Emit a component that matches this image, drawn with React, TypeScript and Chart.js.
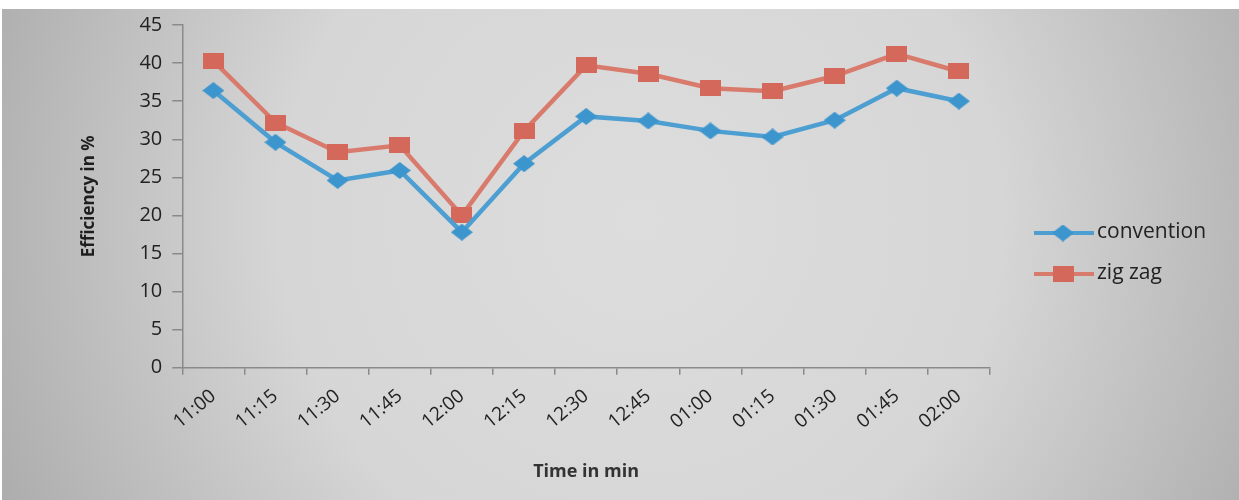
import React, { useEffect, useRef } from 'react';
import { Chart, registerables } from 'chart.js';

Chart.register(...registerables);

const timeLabels = ['11:00', '11:15', '11:30', '11:45', '12:00', '12:15', '12:30', '12:45', '01:00', '01:15', '01:30', '01:45', '02:00'];
const conventionValues = [36.4, 29.6, 24.6, 25.9, 17.8, 26.8, 33.0, 32.4, 31.1, 30.3, 32.5, 36.7, 35.0];
const zigzagValues = [40.3, 32.2, 28.3, 29.2, 20.0, 31.1, 39.7, 38.6, 36.7, 36.3, 38.3, 41.2, 38.9];
const seriesNames = ['convention', 'zig zag'];
const yMin = 0;
const yMax = 45;
const yStep = 5;

const BLUE_LINE = '#4d9fd2';
const BLUE_MARK = '#3d95cd';
const RED_LINE = '#d97b6c';
const RED_MARK = '#d4685a';
const TEXT = '#222222';
const AXIS = '#8a8a8a';
const FONT = "'Open Sans', 'Liberation Sans', sans-serif";

function makeMarker(shape: 'diamond' | 'rect', color: string, w: number, h: number) {
  const c = document.createElement('canvas');
  c.width = w;
  c.height = h;
  const g = c.getContext('2d')!;
  g.fillStyle = color;
  if (shape === 'rect') {
    g.fillRect(0, 0, w, h);
  } else {
    g.beginPath();
    g.moveTo(w / 2, 0);
    g.lineTo(w, h / 2);
    g.lineTo(w / 2, h);
    g.lineTo(0, h / 2);
    g.closePath();
    g.fill();
  }
  return c;
}

export default function App() {
  const ref = useRef<HTMLCanvasElement | null>(null);

  useEffect(() => {
    if (!ref.current) return;
    const diamond = makeMarker('diamond', BLUE_MARK, 22, 17);
    const square = makeMarker('rect', RED_MARK, 21, 16);
    const markers = [diamond, square];
    const lineColors = [BLUE_LINE, RED_LINE];

    const background = {
      id: 'photoBackground',
      beforeDraw(chart: any) {
        const { ctx, width, height } = chart;
        ctx.save();
        const grad = ctx.createRadialGradient(640, 220, 0, 640, 220, 720);
        grad.addColorStop(0, '#dddddd');
        grad.addColorStop(0.5, '#d6d6d6');
        grad.addColorStop(1, '#aaaaaa');
        ctx.fillStyle = grad;
        ctx.fillRect(0, 0, width, height);
        ctx.fillStyle = '#ffffff';
        ctx.fillRect(0, 0, width, 9);
        ctx.fillRect(0, 0, 2, height);
        ctx.restore();
      },
    };

    const legend = {
      id: 'customLegend',
      afterDraw(chart: any) {
        const { ctx } = chart;
        ctx.save();
        const rows = [233, 274];
        chart.data.datasets.forEach((ds: any, i: number) => {
          const y = rows[i];
          ctx.strokeStyle = lineColors[i];
          ctx.lineWidth = 4;
          ctx.beginPath();
          ctx.moveTo(1034, y);
          ctx.lineTo(1094, y);
          ctx.stroke();
          const m = markers[i];
          ctx.drawImage(m, 1063 - m.width / 2, y - m.height / 2);
          ctx.fillStyle = TEXT;
          ctx.font = `21px ${FONT}`;
          ctx.textBaseline = 'middle';
          ctx.textAlign = 'left';
          ctx.fillText(ds.label, 1097, y - 1);
        });
        ctx.restore();
      },
    };

    const chart = new Chart(ref.current, {
      type: 'line',
      data: {
        labels: timeLabels,
        datasets: [
          {
            label: seriesNames[0],
            data: conventionValues,
            borderColor: BLUE_LINE,
            backgroundColor: BLUE_MARK,
            borderWidth: 4.5,
            pointStyle: diamond,
            pointRadius: 10,
            tension: 0,
          },
          {
            label: seriesNames[1],
            data: zigzagValues,
            borderColor: RED_LINE,
            backgroundColor: RED_MARK,
            borderWidth: 4.5,
            pointStyle: square,
            pointRadius: 10,
            tension: 0,
          },
        ],
      },
      options: {
        responsive: false,
        animation: false,
        layout: { padding: { left: 72, right: 249, top: 25, bottom: 13 } },
        plugins: {
          legend: { display: false },
          tooltip: { enabled: false },
        },
        scales: {
          x: {
            offset: true,
            border: { display: true, color: AXIS, width: 1.5 },
            grid: { display: true, offset: true, drawOnChartArea: false, drawTicks: true, tickLength: 7, color: AXIS, lineWidth: 1.5 },
            ticks: {
              color: TEXT,
              font: { family: FONT, size: 19 },
              minRotation: 40,
              maxRotation: 40,
              padding: 10,
              autoSkip: false,
            },
            title: {
              display: true,
              text: 'Time in min',
              color: '#333333',
              font: { family: FONT, size: 18, weight: 'bold' },
              padding: { top: 18, bottom: 4 },
            },
          },
          y: {
            min: yMin,
            max: yMax,
            border: { display: true, color: AXIS, width: 1.5 },
            grid: { display: true, drawOnChartArea: false, drawTicks: true, tickLength: 10, color: AXIS, lineWidth: 1.5 },
            ticks: {
              stepSize: yStep,
              color: TEXT,
              font: { family: FONT, size: 20 },
              padding: 10,
            },
            title: {
              display: true,
              text: 'Efficiency in %',
              color: '#1e1e1e',
              font: { family: FONT, size: 17, weight: 'bold' },
              padding: { top: 7, bottom: 30 },
            },
          },
        },
      },
      plugins: [background, legend],
    });

    return () => chart.destroy();
  }, []);

  return (
    <div style={{ position: 'absolute', left: 0, top: 0, width: 1239, height: 500 }}>
      <canvas ref={ref} width={1239} height={500} style={{ display: 'block' }} />
    </div>
  );
}
